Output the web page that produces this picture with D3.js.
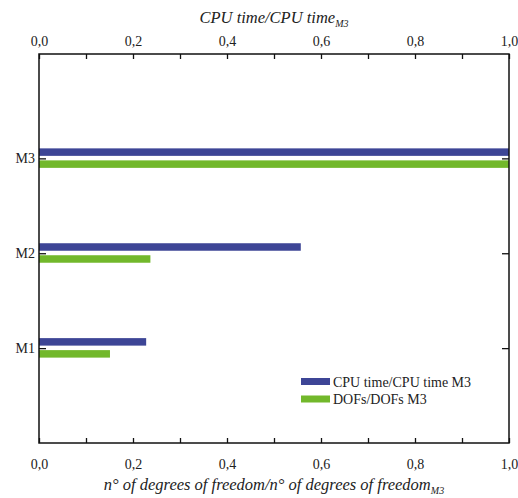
<!DOCTYPE html>
<html><head><meta charset="utf-8">
<script src="https://cdn.jsdelivr.net/npm/d3@7"></script>
<style>body{margin:0;background:#fff}svg{display:block}</style>
</head><body>
<svg id="c" width="518" height="498"></svg>
<script>
const categories = ["M1", "M2", "M3"];
const cpuValues = [0.228, 0.557, 1.0];
const dofValues = [0.151, 0.237, 1.0];
const xTicks = [0, 0.2, 0.4, 0.6, 0.8, 1.0];
const seriesNames = ["CPU time/CPU time M3", "DOFs/DOFs M3"];
const colors = ["#3d4596", "#72b82b"];
const FONT = "Liberation Serif";

const svg = d3.select("#c").attr("font-family", FONT);
const L = 39, R = 509, T = 54, B = 443;
const x = d3.scaleLinear().domain([0, 1]).range([L, R]);
const y = d3.scaleLinear().domain([0, 4.1]).range([B, T]);
const fmt = d => d3.format(".1f")(d).replace(".", ",");

// bars
const barH = 7.5;
const series = [cpuValues, dofValues];
series.forEach((vals, s) => {
  svg.append("g").selectAll("rect").data(vals).join("rect")
    .attr("x", x(0))
    .attr("y", (d, i) => y(i + 1) + (s === 0 ? -10 : 2))
    .attr("width", d => x(d) - x(0))
    .attr("height", barH)
    .attr("fill", colors[s]);
});

// axes
const minor = d3.range(0, 1.0001, 0.1);
const isMajor = d => xTicks.some(t => Math.abs(t - d) < 1e-6);
const axB = d3.axisBottom(x).tickValues(minor).tickSize(-5).tickFormat(d => isMajor(d) ? fmt(d) : "");
const axT = d3.axisTop(x).tickValues(minor).tickSize(-5).tickFormat(d => isMajor(d) ? fmt(d) : "");
const axL = d3.axisLeft(y).tickValues([1, 2, 3]).tickSize(-7).tickFormat((d) => categories[d - 1]);
const axR = d3.axisRight(y).tickValues([1, 2, 3]).tickSize(-7).tickFormat("");

function style(g) {
  g.attr("font-family", FONT).attr("font-size", 14);
  g.select(".domain").remove();
  g.selectAll(".tick line").attr("stroke", "#111").attr("stroke-width", 1.3);
  g.selectAll("text").attr("font-family", FONT).attr("font-size", 14).attr("fill", "#222");
}
const gb = svg.append("g").attr("transform", `translate(0,${B})`).call(axB);
style(gb); gb.selectAll("text").attr("y", 0).attr("dy", "1.85em");
const gt = svg.append("g").attr("transform", `translate(0,${T})`).call(axT);
style(gt); gt.selectAll("text").attr("y", 0).attr("dy", "-0.6em");
const gl = svg.append("g").attr("transform", `translate(${L},0)`).call(axL);
style(gl); gl.selectAll("text").attr("x", -4).attr("dy", "0.32em");
const gr = svg.append("g").attr("transform", `translate(${R},0)`).call(axR);
style(gr);

// frame
svg.append("rect").attr("x", L).attr("y", T).attr("width", R - L).attr("height", B - T)
  .attr("fill", "none").attr("stroke", "#111").attr("stroke-width", 1.5);

// titles
const tt = svg.append("text").attr("x", 274).attr("y", 23).attr("text-anchor", "middle")
  .attr("font-family", FONT).attr("font-size", 16.5).attr("font-style", "italic").attr("fill", "#222");
tt.append("tspan").text("CPU time/CPU time");
tt.append("tspan").text("M3").attr("font-size", 10).attr("dy", 4);
const bt = svg.append("text").attr("x", 274).attr("y", 490).attr("text-anchor", "middle")
  .attr("font-family", FONT).attr("font-size", 16.5).attr("font-style", "italic").attr("fill", "#222");
bt.append("tspan").text("n° of degrees of freedom/n° of degrees of freedom");
bt.append("tspan").text("M3").attr("font-size", 10).attr("dy", 4);

// legend
const lg = svg.append("g");
seriesNames.forEach((n, i) => {
  lg.append("rect").attr("x", 301).attr("y", 378 + i * 17.5).attr("width", 29).attr("height", 7).attr("fill", colors[i]);
  lg.append("text").attr("x", 333).attr("y", 386.5 + i * 17.5).attr("font-family", FONT)
    .attr("font-size", 14).attr("fill", "#222").text(n);
});
</script>
</body></html>
